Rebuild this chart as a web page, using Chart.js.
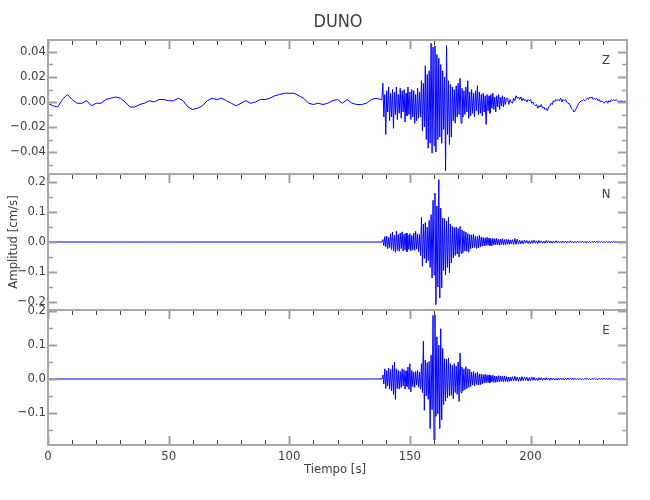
<!DOCTYPE html>
<html>
<head>
<meta charset="utf-8">
<script src="https://cdn.jsdelivr.net/npm/chart.js@4.4.1/dist/chart.umd.min.js"></script>
<style>
body{margin:0;background:#fff;}
#wrap{position:relative;width:650px;height:500px;}
#wrap canvas{position:absolute;left:0;top:0;}
</style>
</head>
<body>
<div id="wrap">
<canvas id="chartZ" width="650" height="500"></canvas>
<canvas id="chartN" width="650" height="500"></canvas>
<canvas id="chartE" width="650" height="500"></canvas>
</div>
<script>
// station DUNO, velocity traces (cm/s)
// quiet part: every 2 s from 0 s (Z) / every 10 s from 0 s (N, E)
// active part: every 0.4 s from 138.4 s, coda: every 0.5 s
const zQuiet=[-0.001,-0.003,-0.004,0.002,0.006,0.002,-0.001,-0.001,0.001,-0.003,
-0.001,-0.001,0.002,0.003,0.004,0.003,0.000,-0.004,-0.004,-0.002,
-0.001,0.001,0.000,0.002,0.002,0.001,0.001,0.003,0.001,-0.004,
-0.006,-0.005,-0.003,0.001,0.003,0.002,0.003,0.001,-0.001,-0.003,
-0.001,0.001,-0.001,0.000,0.002,0.002,0.003,0.005,0.006,0.007,
0.007,0.007,0.005,0.003,-0.001,-0.002,-0.001,-0.002,-0.001,0.001,
0.002,-0.001,0.002,-0.001,-0.002,-0.002,-0.001,0.002,0.003,0.002];

const zActive=[0.002,0.015,-0.012,0.006,-0.026,0.009,-0.008,0.012,-0.015,0.007,
-0.012,0.010,-0.021,0.008,-0.010,0.012,-0.014,0.006,-0.009,0.011,
-0.013,0.009,-0.008,0.010,-0.016,0.007,-0.011,0.012,-0.010,0.008,
-0.014,0.010,-0.012,0.009,-0.017,0.006,-0.015,0.011,-0.013,0.008,
-0.012,0.017,-0.023,0.015,-0.020,0.029,-0.030,0.022,-0.037,0.025,
-0.033,0.047,-0.041,0.044,-0.035,0.045,-0.040,0.038,-0.030,0.035,
-0.028,0.030,-0.033,0.025,-0.022,0.020,-0.055,0.045,-0.026,0.017,
-0.034,0.014,-0.028,0.012,-0.015,0.010,-0.017,0.013,-0.012,0.015,
-0.010,0.019,-0.017,0.011,-0.012,0.009,-0.010,0.012,-0.008,0.017,
-0.013,0.008,-0.011,0.010,-0.009,0.007,-0.012,0.009,-0.007,0.013,
-0.010,0.008,-0.009,0.006,-0.011,0.007,-0.008,0.005,-0.018,0.006,
-0.007,0.005,-0.009,0.006,-0.005,0.007,-0.006,0.004,-0.008,0.005,
-0.004,0.006,-0.006,0.004,-0.003,0.005,-0.004,0.004,-0.002,0.003];

const zCoda=[0.003,-0.002,0.002,0.000,-0.001,0.003,0.001,0.005,0.003,0.004,
0.002,0.004,0.001,0.003,0.001,0.002,0.000,0.002,0.001,0.002,
-0.001,0.000,-0.002,-0.003,-0.002,-0.005,-0.003,-0.004,-0.002,-0.005,
-0.004,-0.006,-0.005,-0.007,-0.004,-0.003,-0.001,-0.002,0.001,0.000,
0.002,0.001,0.002,0.001,0.003,0.000,0.002,0.001,0.002,0.000,
-0.001,-0.001,-0.003,-0.005,-0.006,-0.008,-0.007,-0.005,-0.003,-0.001,
0.000,0.001,0.001,0.002,0.001,0.002,0.003,0.002,0.004,0.003,
0.004,0.002,0.003,0.002,0.003,0.001,0.002,0.000,0.001,0.000,
-0.001,0.000,0.001,-0.001,0.001,0.000,0.002,0.001,0.002,0.001,
0.002,0.001,0.000,0.001,0.000,0.001,0.000,0.001,0.000,0.000];

const nQuiet=[0,0,0,0,0,0,0,0,0,0,0,0,0,0];

const nActive=[0.000,0.008,-0.012,0.018,-0.016,0.020,-0.022,0.015,-0.019,0.028,
-0.025,0.033,-0.030,0.022,-0.034,0.036,-0.028,0.025,-0.031,0.030,
-0.022,0.034,-0.030,0.026,-0.027,0.030,-0.033,0.024,-0.025,0.028,
-0.030,0.022,-0.026,0.030,-0.028,0.036,-0.024,0.027,-0.032,0.025,
-0.045,0.082,-0.081,0.060,-0.055,0.065,-0.070,0.050,-0.062,0.072,
-0.085,0.091,-0.120,0.139,-0.110,0.163,-0.209,0.120,-0.150,0.208,
-0.187,0.113,-0.153,0.080,-0.095,0.078,-0.110,0.070,-0.085,0.082,
-0.103,0.060,-0.070,0.052,-0.053,0.048,-0.045,0.050,-0.040,0.045,
-0.050,0.052,-0.038,0.040,-0.035,0.036,-0.030,0.033,-0.031,0.028,
-0.034,0.025,-0.022,0.024,-0.020,0.026,-0.018,0.020,-0.022,0.018,
-0.020,0.022,-0.016,0.017,-0.014,0.015,-0.013,0.014,-0.012,0.016,
-0.011,0.013,-0.012,0.010,-0.013,0.012,-0.010,0.011,-0.009,0.012,
-0.010,0.009,-0.011,0.010,-0.008,0.011,-0.009,0.008,-0.010,0.009,
-0.007,0.008,-0.008,0.007,-0.006];

const nCoda=[0.008,-0.009,0.012,-0.008,0.010,-0.007,0.006,-0.006,
0.005,-0.006,0.006,-0.004,0.005,-0.005,0.004,-0.005,
0.005,-0.004,0.006,-0.004,0.004,-0.005,0.005,-0.003,
0.004,-0.004,0.003,-0.004,0.005,-0.003,0.004,-0.003,
0.003,-0.004,0.003,-0.003,0.004,-0.002,0.003,-0.003,
0.002,-0.003,0.003,-0.002,0.003,-0.003,0.002,-0.002,
0.004,-0.002,0.002,-0.003,0.002,-0.002,0.003,-0.002,
0.002,-0.002,0.003,-0.002,0.002,-0.003,0.002,-0.002,
0.002,-0.002,0.002,-0.001,0.002,-0.002,0.003,-0.002,
0.002,-0.001,0.002,-0.002,0.001,-0.002,0.002,-0.001,
0.001,-0.002,0.001,-0.001,0.002,-0.001,0.001,-0.001,
0.001,-0.001,0.001,-0.001,0.001,-0.001,0.001,0.000];

const eQuiet=[0,0,0,0,0,0,0,0,0,0,0,0,0,0];

const eActive=[0.000,0.012,-0.015,0.030,-0.028,0.025,-0.020,0.032,-0.030,0.028,
-0.035,0.040,-0.045,0.050,-0.060,0.030,-0.028,0.025,-0.030,0.022,
-0.025,0.030,-0.020,0.027,-0.030,0.024,-0.022,0.035,-0.030,0.045,
-0.038,0.025,-0.022,0.020,-0.025,0.022,-0.018,0.025,-0.024,0.020,
-0.030,0.045,-0.040,0.111,-0.092,0.055,-0.050,0.048,-0.060,0.052,
-0.146,0.070,-0.090,0.187,-0.180,0.189,-0.110,0.124,-0.102,0.100,
-0.146,0.148,-0.120,0.090,-0.075,0.060,-0.065,0.058,-0.055,0.062,
-0.050,0.045,-0.048,0.040,-0.058,0.045,-0.040,0.038,-0.045,0.050,
-0.066,0.076,-0.040,0.035,-0.035,0.030,-0.032,0.036,-0.028,0.030,
-0.025,0.028,-0.022,0.020,-0.018,0.022,-0.020,0.018,-0.016,0.020,
-0.018,0.015,-0.017,0.014,-0.015,0.013,-0.012,0.014,-0.011,0.012,
-0.010,0.012,-0.011,0.010,-0.009,0.011,-0.010,0.009,-0.010,0.008,
-0.009,0.010,-0.008,0.009,-0.007,0.008,-0.008,0.009,-0.007,0.007,
-0.008,0.006,-0.007,0.006,-0.006];

const eCoda=[0.007,-0.006,0.008,-0.005,0.006,-0.007,0.005,-0.006,
0.007,-0.005,0.006,-0.004,0.005,-0.006,0.004,-0.005,
0.006,-0.004,0.005,-0.004,0.003,-0.005,0.004,-0.003,
0.004,-0.004,0.003,-0.003,0.004,-0.003,0.003,-0.004,
0.003,-0.002,0.003,-0.003,0.002,-0.003,0.003,-0.002,
0.003,-0.002,0.002,-0.003,0.002,-0.002,0.003,-0.002,
0.002,-0.002,0.003,-0.002,0.002,-0.001,0.002,-0.002,
0.002,-0.002,0.001,-0.002,0.002,-0.001,0.002,-0.002,
0.001,-0.002,0.002,-0.001,0.002,-0.001,0.001,-0.002,
0.002,-0.001,0.001,-0.001,0.002,-0.001,0.001,-0.001,
0.001,-0.001,0.002,-0.001,0.001,-0.001,0.001,-0.001,
0.001,-0.001,0.001,-0.001,0.001,-0.001,0.001,0.000];

const xTickLabels=[0,50,100,150,200];

const FONT="'Liberation Sans Narrow','DejaVu Sans Condensed','Roboto',sans-serif";
const TEXT='#404040';
Chart.defaults.font.family=FONT;
Chart.defaults.color=TEXT;

function series(start,step,vals){
return vals.map((v,i)=>({x:+(start+i*step).toFixed(2),y:v}));
}

function trace(quiet,quietStep,active,coda,codaStart){
return series(0,quietStep,quiet)
.concat(series(138.4,0.4,active))
.concat(series(codaStart,0.5,coda));
}

function fmt(v,dec){
if(Math.abs(v)<1e-9) v=0;
return v.toFixed(dec).replace('-','\u2212');
}

// frame, inner ticks and the loose texts of each panel
const framePlugin={
id:'frame',
afterDraw(chart,args,o){
const ctx=chart.ctx,a=chart.chartArea,x=chart.scales.x,y=chart.scales.y;
ctx.save();
for(let t=0;t<=240;t+=10){
const px=Math.round(x.getPixelForValue(t))+0.5;
const major=t%50===0;
const len=major?9:5;
ctx.strokeStyle=major?'#a0a0a0':'#404040';
ctx.lineWidth=major?2:1;
ctx.beginPath();
ctx.moveTo(px,a.top);ctx.lineTo(px,a.top+len);
if(o.bottomTicks){ctx.moveTo(px,a.bottom);ctx.lineTo(px,a.bottom-len);}
ctx.stroke();
}
const k0=Math.ceil(y.min/o.minor-1e-6),k1=Math.floor(y.max/o.minor+1e-6);
for(let k=k0;k<=k1;k++){
const py=Math.round(y.getPixelForValue(k*o.minor))+0.5;
const major=k%o.ratio===0;
const len=major?9:5;
ctx.strokeStyle='#a0a0a0';
ctx.lineWidth=major?2:1.5;
ctx.beginPath();
ctx.moveTo(a.left,py);ctx.lineTo(a.left+len,py);
ctx.moveTo(a.right,py);ctx.lineTo(a.right-len,py);
ctx.stroke();
}
ctx.strokeStyle='#a8a8a8';
ctx.lineWidth=2;
ctx.strokeRect(a.left,a.top,a.right-a.left,a.bottom-a.top);

ctx.fillStyle=TEXT;
ctx.textAlign='center';
ctx.textBaseline='middle';
ctx.font='13px '+FONT;
ctx.fillText(o.label,a.right-21,a.top+21);
if(o.title){
ctx.font='18px '+FONT;
ctx.fillText(o.title,338,22);
}
if(o.xTitle){
ctx.font='13px '+FONT;
ctx.fillText(o.xTitle,335,470);
}
if(o.yTitle){
ctx.font='13px '+FONT;
ctx.translate(14,(a.top+a.bottom)/2);
ctx.rotate(-Math.PI/2);
ctx.fillText(o.yTitle,0,0);
}
ctx.restore();
}
};

function panel(id,data,p){
const xScale={type:'linear',min:0,max:240,display:!!p.showX,
grid:{display:false,drawTicks:false},border:{display:false},
ticks:{stepSize:50,includeBounds:false,padding:4,font:{size:13},
callback:v=>xTickLabels.includes(v)?String(v):''}};
if(p.showX) xScale.afterFit=s=>{s.height=55;};
return new Chart(document.getElementById(id),{
type:'line',
data:{datasets:[{data:data,borderColor:'#0000ff',borderWidth:1,
pointRadius:0,tension:0,fill:false}]},
options:{
responsive:false,animation:false,events:[],
layout:{padding:{left:0,right:23,top:p.top,bottom:p.bottom}},
plugins:{legend:{display:false},tooltip:{enabled:false},
frame:{label:p.label,minor:p.minor,ratio:p.ratio,bottomTicks:p.showX,
title:p.title,xTitle:p.xTitle,yTitle:p.yTitle}},
scales:{
x:xScale,
y:{min:p.min,max:p.max,grid:{display:false,drawTicks:false},border:{display:false},
afterFit(s){s.width=48;},
ticks:{stepSize:p.step,includeBounds:false,padding:2,font:{size:13},
callback:v=>fmt(v,p.dec)}}
}
},
plugins:[framePlugin]
});
}

panel('chartZ',trace(zQuiet,2,zActive,zCoda,190.5),
{top:40,bottom:326,min:-0.0576,max:0.0496,step:0.02,minor:0.01,ratio:2,dec:2,
label:'Z',title:'DUNO'});
panel('chartN',trace(nQuiet,10,nActive,nCoda,192.5),
{top:174,bottom:190,min:-0.2267,max:0.2267,step:0.1,minor:0.05,ratio:2,dec:1,
label:'N',yTitle:'Amplitud [cm/s]'});
panel('chartE',trace(eQuiet,10,eActive,eCoda,192.5),
{top:310,bottom:0,min:-0.1941,max:0.2029,step:0.1,minor:0.05,ratio:2,dec:1,
label:'E',showX:true,xTitle:'Tiempo [s]'});
</script>
</body>
</html>
